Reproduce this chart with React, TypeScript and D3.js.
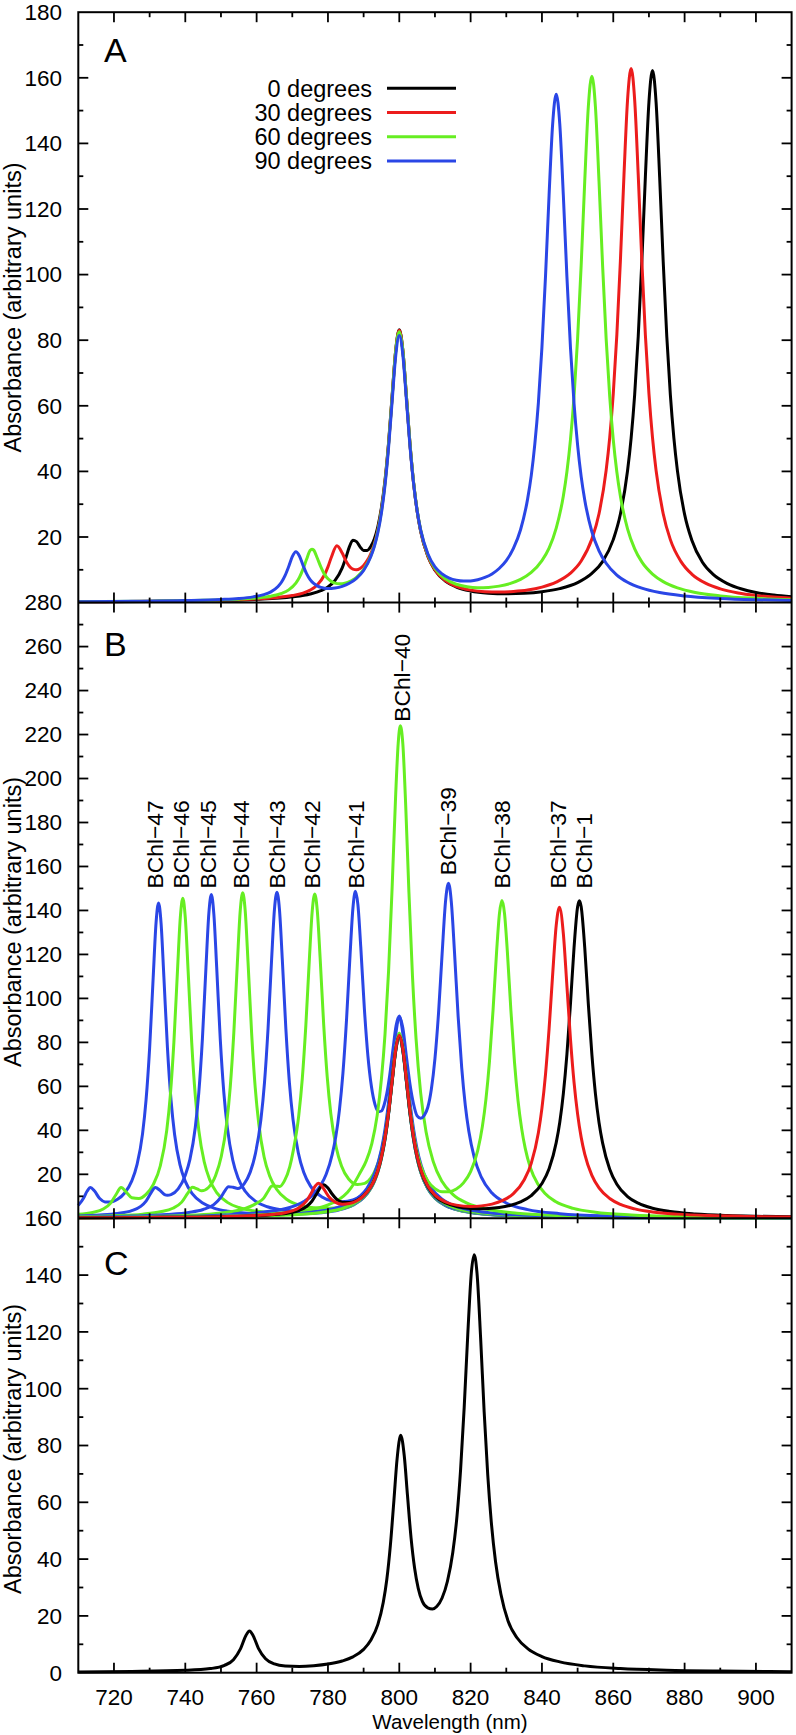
import React from "react";
import * as d3 from "d3";

type Pt = [number, number];

// ---------- tick values ----------
const wavelengthTicks = [720, 740, 760, 780, 800, 820, 840, 860, 880, 900];
const panelATicks = [20, 40, 60, 80, 100, 120, 140, 160, 180];
const panelBTicks = [20, 40, 60, 80, 100, 120, 140, 160, 180, 200, 220, 240, 260, 280];
const panelCTicks = [0, 20, 40, 60, 80, 100, 120, 140, 160];

const legendLabels = ["0 degrees", "30 degrees", "60 degrees", "90 degrees"];

// ---------- panel A spectra (wavelength nm, absorbance) ----------
const specA0: Pt[] = [[710,0.24],[730,0.37],[750,0.67],[760,0.99],[770,1.75],[775,2.63],[778,3.63],[780,4.78],[782,6.78],[784,10.6],[785,13.6],[786,17.0],[787,19.0],[788,18.6],[789,17.0],[790,15.9],[791,15.9],[792,17.1],[793,19.4],[794,23.2],[795,29.0],[796,37.3],[797,48.8],[798,63.2],[799,77.0],[800,83.2],[801,76.9],[802,62.8],[803,48.3],[804,36.6],[805,27.9],[806,21.7],[808,14.1],[810,9.86],[813,6.48],[816,4.74],[820,3.54],[825,2.88],[830,2.69],[835,2.84],[840,3.32],[845,4.27],[850,6.1],[854,8.9],[857,12.5],[860,19.2],[862,27.0],[864,40.2],[865,50.1],[866,63.4],[867,81.2],[868,103.9],[869,129.8],[870,152.6],[871,162.2],[872,152.6],[873,129.8],[874,103.9],[875,81.2],[876,63.4],[877,50.1],[878,40.1],[880,26.9],[882,19.1],[885,12.3],[888,8.6],[892,5.8],[896,4.15],[900,3.1],[905,2.3],[910,1.77]];
const specA30: Pt[] = [[710,0.25],[730,0.39],[750,0.73],[760,1.11],[765,1.46],[770,2.14],[773,2.91],[775,3.79],[777,5.36],[779,8.41],[780,10.9],[781,14.0],[782.5,17.3],[784,15.1],[785,12.8],[786,11.1],[787,10.2],[788,10.0],[789,10.4],[790,11.3],[791,12.8],[792,14.9],[793,17.9],[794,22.2],[795,28.3],[796,36.8],[797,48.4],[798,62.8],[799,76.8],[800,83.0],[801,76.8],[802,62.8],[803,48.3],[804,36.6],[805,28.0],[806,21.8],[808,14.2],[810,9.97],[813,6.63],[816,4.93],[820,3.80],[824,3.32],[828,3.23],[832,3.38],[836,3.81],[840,4.72],[844,6.24],[848,8.99],[851,12.7],[854,19.4],[856,27.1],[858,40.3],[859,50.3],[860,63.7],[861,81.6],[862,104.3],[863,130.3],[864,153.2],[865,162.8],[866,153.2],[867,130.3],[868,104.3],[869,81.6],[870,63.7],[871,50.3],[872,40.3],[874,27.1],[876,19.2],[879,12.5],[882,8.7],[886,5.85],[890,4.2],[895,2.95],[900,2.2],[905,1.7],[910,1.35]];
const specA60: Pt[] = [[710,0.27],[730,0.43],[745,0.69],[755,1.05],[760,1.43],[764,1.95],[767,2.81],[769,3.88],[771,5.93],[772,7.67],[773,10.2],[774,13.2],[775,15.9],[775.5,16.3],[776,16.0],[777,13.6],[778,10.9],[779,8.68],[780,7.25],[781,6.39],[782,5.93],[783,5.74],[784,5.77],[785,5.99],[786,6.37],[787,6.93],[788,7.71],[790,10.05],[792,14.2],[793,17.4],[794,21.8],[795,27.9],[796,36.5],[797,48.2],[798,62.7],[799,76.7],[800,82.6],[801,76.9],[802,62.9],[803,48.5],[804,36.8],[805,28.2],[806,22.1],[808,14.6],[810,10.4],[813,7.16],[816,5.59],[819,4.84],[822,4.56],[825,4.63],[828,5.02],[831,5.79],[834,7.06],[837,9.18],[840,12.8],[842,16.6],[844,22.7],[846,32.5],[847,39.9],[848,49.7],[849,62.9],[850,80.5],[851,102.9],[852,128.5],[853,151.1],[854,160.5],[855,151.1],[856,128.5],[857,102.9],[858,80.5],[859,62.9],[860,49.6],[861,39.8],[862,32.4],[864,22.5],[866,16.4],[868,12.4],[871,8.7],[874,6.4],[878,4.5],[883,3.1],[890,2.05],[900,1.3],[910,0.9]];
const specA90: Pt[] = [[710,0.29],[725,0.41],[740,0.63],[750,0.95],[755,1.26],[759,1.75],[762,2.42],[764,3.27],[766,4.91],[767,6.29],[768,8.3],[769,11.0],[770,14.0],[771,15.5],[772,14.2],[773,11.4],[774,8.83],[775,7.01],[776,5.83],[777,5.1],[778,4.63],[779,4.4],[780,4.31],[781,4.33],[782,4.45],[784,4.95],[786,5.88],[788,7.39],[790,9.8],[792,14.0],[793,17.1],[794,21.4],[795,27.4],[796,35.8],[797,47.3],[798,61.5],[799,75.2],[800,81.4],[801,75.5],[802,61.8],[803,47.7],[804,36.4],[805,28.0],[806,22.1],[808,14.9],[810,10.9],[812,8.74],[814,7.48],[816,6.8],[818,6.55],[820,6.61],[822,6.96],[824,7.66],[826,8.73],[828,10.4],[830,12.8],[832,16.5],[834,22.2],[836,31.7],[837,38.7],[838,48.3],[839,60.9],[840,77.9],[841,99.5],[842,124.2],[843,145.9],[844,155.0],[845,145.9],[846,124.1],[847,99.4],[848,77.7],[849,60.7],[850,48.0],[851,38.4],[852,31.3],[854,21.6],[856,15.8],[858,12.0],[861,8.4],[864,6.2],[868,4.4],[873,3.06],[880,2.03],[890,1.28],[900,0.88],[910,0.65]];

// ---------- panel B spectra ----------
const specB47: Pt[] = [[710,5.85],[711.5,9.27],[712.5,12.4],[713.4,14.0],[714.5,12.5],[716,8.97],[717.5,7.45],[719,7.36],[721,8.63],[723,11.5],[725,17.0],[726.5,24.6],[728,38.3],[729,53.8],[730,77.4],[731,109.6],[731.8,134.4],[732.5,143.4],[733.2,134.4],[734,109.6],[735,77.4],[736,53.7],[737,38.1],[738.5,24.4],[740,16.8],[742,11.1],[745,6.8],[748,4.66],[752,3.19],[758,2.22],[765,1.84],[772,1.96],[778,2.56],[783,3.77],[787,5.93],[790,9.32],[792,13.5],[793,16.7],[794,21.1],[795,27.3],[796,35.9],[797,47.6],[798,62.1],[799,76.1],[800,82.3],[801,76.1],[802,62.1],[803,47.6],[804,35.9],[805,27.2],[806,21.0],[808,13.4],[810,9.16],[813,5.74],[817,3.52],[822,2.19],[830,1.25],[845,0.61],[865,0.29],[910,0.11]];
const specB46: Pt[] = [[710,1.79],[714,2.67],[717,4.24],[719,6.77],[720.5,10.6],[722,14.0],[723.5,11.8],[725,9.38],[727,9.02],[729,10.9],[731,15.3],[733,23.9],[734.8,40.0],[735.8,55.9],[736.8,80.0],[737.8,112.3],[738.6,136.7],[739.3,145.5],[740,136.7],[740.8,112.3],[741.8,79.9],[742.8,55.8],[743.8,39.9],[745.3,25.7],[746.8,17.7],[748.8,11.7],[751.8,7.24],[755,4.91],[759,3.46],[765,2.52],[772,2.34],[778,2.8],[783,3.95],[787,6.06],[790,9.42],[792,13.6],[793,16.8],[794,21.2],[795,27.4],[796,36.0],[797,47.7],[798,62.2],[799,76.2],[800,82.4],[801,76.2],[802,62.2],[803,47.6],[804,35.9],[805,27.3],[806,21.1],[808,13.5],[810,9.25],[813,5.83],[817,3.6],[822,2.26],[830,1.3],[845,0.64],[865,0.3],[910,0.12]];
const specB45: Pt[] = [[710,1.04],[716,1.5],[721,2.23],[725,3.49],[727.5,5.41],[729,7.81],[730.3,11.3],[731.6,14.0],[732.9,12.7],[734.2,10.8],[735,10.5],[736,10.8],[738,13.4],[740,19.6],[741.3,26.8],[742.8,41.3],[743.8,57.4],[744.8,81.7],[745.8,114.3],[746.6,138.6],[747.3,147.2],[748,138.5],[748.8,114.2],[749.8,81.6],[750.8,57.3],[751.8,41.1],[753.3,26.5],[754.8,18.3],[756.8,12.3],[759.8,7.63],[763,5.26],[767,3.84],[772,3.16],[777,3.19],[782,3.97],[786,5.62],[789,8.23],[791,11.4],[793,17.0],[794,21.4],[795,27.6],[796,36.1],[797,47.8],[798,62.3],[799,76.3],[800,82.5],[801,76.3],[802,62.3],[803,47.7],[804,36.0],[805,27.4],[806,21.2],[808,13.6],[810,9.32],[813,5.88],[817,3.64],[822,2.29],[830,1.32],[845,0.64],[865,0.3],[910,0.12]];
const specB44: Pt[] = [[710,0.73],[720,1.15],[728,1.9],[733,2.96],[736.5,4.57],[739,7.35],[740.7,11.4],[742,14.1],[743.3,13.4],[744.6,12.5],[746.5,14.0],[748.5,19.5],[750.1,28.2],[751.6,43.2],[752.6,59.7],[753.6,84.2],[754.6,116.2],[755.4,139.8],[756.1,148.0],[756.8,139.8],[757.6,116.2],[758.6,84.1],[759.6,59.6],[760.6,43.0],[762.1,27.9],[763.6,19.5],[765.6,13.2],[768.6,8.42],[772,5.95],[776,4.75],[780,4.58],[784,5.32],[787,6.84],[790,10.0],[792,14.2],[793,17.3],[794,21.6],[795,27.8],[796,36.4],[797,48.0],[798,62.5],[799,76.5],[800,82.7],[801,76.4],[802,62.4],[803,47.9],[804,36.2],[805,27.5],[806,21.3],[808,13.7],[810,9.4],[813,5.95],[817,3.69],[822,2.33],[830,1.35],[845,0.66],[865,0.31],[910,0.12]];
const specB43: Pt[] = [[710,0.54],[725,0.99],[735,1.7],[741,2.66],[745,4.0],[748,6.24],[750,9.58],[751,12.2],[752.1,14.4],[753.4,14.1],[754.7,13.6],[756.5,15.7],[758.2,21.0],[759.7,29.7],[761.2,44.9],[762.2,61.6],[763.2,86.2],[764.2,117.7],[765,140.5],[765.7,148.3],[766.4,140.5],[767.2,117.7],[768.2,86.1],[769.2,61.5],[770.2,45.0],[771.7,29.7],[773.2,20.9],[775.2,14.4],[778.2,9.81],[781.4,7.83],[784,7.48],[787,8.33],[789,9.89],[791,12.8],[793,18.1],[794,22.4],[795,28.5],[796,37.0],[797,48.6],[798,63.0],[799,77.0],[800,83.1],[801,76.9],[802,62.8],[803,48.2],[804,36.5],[805,27.8],[806,21.6],[808,13.9],[810,9.62],[813,6.13],[817,3.84],[822,2.44],[830,1.42],[845,0.69],[865,0.32],[910,0.13]];
const specB42: Pt[] = [[710,0.43],[730,0.85],[740,1.33],[748,2.11],[753,3.09],[757,4.58],[760,6.83],[762,9.2],[763.2,12.3],[764.3,14.7],[765.4,14.6],[766.5,14.5],[767.8,17.0],[769.3,23.5],[770.3,31.0],[771.8,46.6],[772.8,63.4],[773.8,87.7],[774.8,118.2],[775.6,139.9],[776.3,147.5],[777,140.0],[777.8,118.6],[778.8,88.2],[779.8,64.2],[780.8,47.6],[782.3,32.3],[783.8,23.8],[785.8,17.9],[788.3,15.4],[790.3,15.9],[792,18.3],[793,21.0],[794,24.9],[795,30.7],[796,38.9],[797,50.3],[798,64.5],[799,78.3],[800,84.3],[801,77.9],[802,63.8],[803,49.1],[804,37.3],[805,28.6],[806,22.3],[808,14.5],[810,10.1],[813,6.5],[817,4.11],[822,2.64],[830,1.55],[845,0.77],[865,0.37],[910,0.14]];
const specB41: Pt[] = [[710,0.35],[730,0.61],[745,1.1],[755,1.81],[762,2.84],[767,4.0],[771,5.9],[773.5,7.9],[776,11.0],[778,15.1],[779.5,20.0],[781.2,29.1],[782.2,37.2],[783.2,49.0],[784.2,66.0],[785.2,90.1],[786.2,119.9],[787,141.0],[787.7,148.7],[788.4,142.6],[789.2,123.4],[790.2,95.6],[791.2,73.9],[792.2,59.8],[793.2,51.7],[794.2,48.5],[795,48.8],[795.7,51.3],[796.5,56.7],[797.3,64.9],[798.2,76.4],[799.1,87.5],[800,92.0],[800.9,85.2],[801.8,71.8],[802.7,57.3],[803.5,46.3],[804.3,37.5],[805.5,27.8],[807,20.0],[809,13.8],[812,8.7],[816,5.42],[822,3.17],[830,1.86],[845,0.9],[865,0.43],[910,0.16]];
const specB40: Pt[] = [[710,0.3],[730,0.5],[745,0.8],[757,1.3],[765,2.0],[771,2.89],[776,4.2],[780,6.05],[783,8.41],[785.5,11.8],[787.3,15.8],[789,20.7],[790.7,26.0],[792.3,34.0],[793.8,46.8],[795,63.5],[796,83.8],[797,112.5],[798,150.7],[799,193.1],[799.7,216.1],[800.3,224.0],[801,215.6],[801.8,187.7],[802.7,148.4],[803.7,110.1],[804.7,81.7],[806,56.9],[807.5,39.4],[809.5,25.9],[812,16.7],[815,10.9],[819,6.87],[825,4.0],[833,2.3],[845,1.24],[865,0.55],[910,0.19]];
const specB39: Pt[] = [[710,0.27],[730,0.43],[750,0.79],[765,1.48],[775,2.64],[782,4.56],[786,6.87],[789,10.1],[791,13.8],[793,20.0],[795,31.4],[796,40.5],[797,52.8],[798,68.0],[799,83.5],[800,91.5],[801,86.5],[802,73.5],[803,61.0],[804,52.0],[805,46.6],[806,45.5],[807,46.8],[808,50.5],[809,58.8],[810,72.6],[811,93.2],[812,120.0],[813,144.7],[813.8,152.4],[814.6,143.7],[815.5,120.5],[816.5,91.8],[817.5,68.5],[818.5,51.5],[819.5,39.6],[821,27.8],[823,18.7],[826,11.5],[830,6.97],[836,3.93],[845,2.12],[860,1.01],[880,0.51],[910,0.24]];
const specB38: Pt[] = [[710,0.24],[740,0.49],[765,1.22],[778,2.67],[785,5.1],[789,8.59],[791,12.0],[793,17.7],[794,22.2],[795,28.4],[796,37.1],[797,48.9],[798,63.5],[799,77.6],[800,84.0],[801,77.9],[802,64.1],[803,49.8],[804,38.3],[805,29.9],[806,24.0],[808,17.0],[810,13.5],[812,12.1],[814,12.1],[816,13.3],[818,16.1],[820,21.2],[822,30.9],[823.3,41.8],[824.3,54.2],[825.3,71.6],[826.3,94.9],[827.3,121.6],[828.1,138.8],[828.8,144.5],[829.5,138.7],[830.3,121.3],[831.3,94.4],[832.3,71.0],[833.3,53.4],[834.3,40.9],[835.3,31.9],[836.8,22.8],[838.8,15.7],[840.8,11.4],[843.8,7.62],[848.8,4.5],[855,2.74],[865,1.52],[880,0.8],[910,0.32]];
const specB37: Pt[] = [[710,0.25],[730,0.39],[750,0.76],[760,1.27],[765,1.85],[768,2.55],[770,3.38],[772,4.88],[774,7.94],[775.5,12.0],[776.5,14.8],[777.3,15.9],[778,15.3],[779,12.9],[780.5,9.31],[782,7.33],[784,6.43],[786,6.71],[788,7.88],[790,10.2],[792,14.3],[793,17.4],[794,21.8],[795,28.0],[796,36.6],[797,48.2],[798,62.7],[799,76.8],[800,83.2],[801,77.0],[802,63.0],[803,48.5],[804,36.9],[805,28.3],[806,22.2],[808,14.7],[810,10.6],[813,7.42],[816,6.0],[820,5.42],[823,5.65],[826,6.46],[829,8.12],[832,11.2],[835,17.4],[837,25.0],[839,38.9],[840,50.1],[841,65.5],[842,86.1],[843,110.8],[844,133.2],[844.9,141.5],[846,129.5],[847,105.7],[848,81.5],[849,61.8],[850,47.4],[851,36.8],[852,29.2],[854,19.5],[856,13.8],[859,9.0],[862,6.3],[866,4.28],[871,2.9],[878,1.9],[887,1.23],[897,0.85],[910,0.57]];
const specB1: Pt[] = [[710,0.24],[730,0.38],[750,0.73],[760,1.18],[766,1.81],[770,2.74],[772,3.66],[774,5.39],[775.5,7.77],[777,11.6],[778,14.3],[778.8,15.3],[780,13.8],[781,11.4],[782.5,8.62],[784,7.34],[786,7.13],[788,8.1],[790,10.3],[792,14.3],[793,17.5],[794,21.8],[795,28.0],[796,36.6],[797,48.3],[798,62.8],[799,76.7],[800,83.0],[801,76.8],[802,62.8],[803,48.3],[804,36.7],[805,28.1],[806,21.9],[808,14.4],[810,10.2],[813,6.97],[816,5.39],[820,4.51],[824,4.4],[828,4.92],[831,5.84],[834,7.46],[837,10.3],[840,15.8],[842,22.5],[844,34.4],[845,43.7],[846,56.7],[847,74.5],[848,97.6],[849,123.1],[850,141.7],[850.5,144.4],[851,141.7],[852,123.1],[853,97.6],[854,74.5],[855,56.6],[856,43.6],[857,34.3],[859,22.3],[861,15.5],[864,9.9],[867,6.87],[871,4.6],[876,3.07],[883,1.97],[892,1.26],[900,0.92],[910,0.67]];

// ---------- panel C spectrum ----------
const specC: Pt[] = [[710,0.29],[725,0.43],[740,0.82],[747,1.44],[751,2.59],[753.5,4.59],[755.5,8.48],[757,13.1],[758,14.7],[759,13.1],[760.5,8.59],[762.5,4.93],[765,3.09],[768,2.36],[772,2.19],[776,2.45],[780,3.03],[784,4.12],[787,5.57],[790,8.2],[792,11.4],[794,17.0],[795.5,24.7],[796.5,32.8],[797.5,44.8],[798.5,60.8],[799.4,75.5],[800.4,83.6],[801.4,76.3],[802.3,62.4],[803.3,47.5],[804.3,36.8],[805.3,29.8],[806.5,25.0],[808,22.8],[809.3,22.4],[810.5,23.3],[812,26.3],[813.5,32.2],[815,42.3],[816.2,55.4],[817.2,71.7],[818.2,93.4],[819.2,119.0],[820.2,140.8],[821,147.2],[821.8,140.6],[822.8,118.0],[823.8,91.8],[824.8,69.7],[825.8,53.0],[827,39.0],[828.5,27.6],[830.5,18.2],[833,12.3],[836,8.5],[840,5.7],[845,3.82],[852,2.4],[862,1.45],[875,0.88],[890,0.56],[910,0.34]];

// ---------- BChl peak labels (label centre wavelength, absorbance where label starts) ----------
const bchlNames = ["BChl\u221247", "BChl\u221246", "BChl\u221245", "BChl\u221244", "BChl\u221243", "BChl\u221242", "BChl\u221241", "BChl\u221240", "BChl\u221239", "BChl\u221238", "BChl\u221237", "BChl\u22121"];
const bchlLabelNm = [731.5, 738.8, 746.4, 755.6, 765.6, 775.6, 787.8, 800.7, 813.7, 828.7, 844.6, 851.9];
const bchlLabelAbs = [150, 150, 150, 150, 150, 150, 150, 225.8, 156, 150, 150, 150];

const BLACK = "#000000";
const RED = "#ec1c1c";
const GREEN = "#66ee22";
const BLUE = "#2a46e6";

const FONT = "'Liberation Sans', Arial, Helvetica, sans-serif";

export default function App() {
  const x = d3.scaleLinear().domain([710, 910]).range([78.3, 791.6]);
  const yA = d3.scaleLinear().domain([0, 180]).range([602.6, 12.2]);
  const yB = d3.scaleLinear().domain([0, 280]).range([1218.3, 602.6]);
  const yC = d3.scaleLinear().domain([0, 160]).range([1672.7, 1218.3]);

  const lineFor = (y: d3.ScaleLinear<number, number>) =>
    d3.line<Pt>().x((d) => x(d[0])).y((d) => y(d[1])).curve(d3.curveMonotoneX);

  const L = x(710);
  const R = x(910);
  const top = yA(180);
  const b1 = yA(0);
  const b2 = yB(0);
  const bottom = yC(0);

  const aSeries = [
    { data: specA0, color: BLACK },
    { data: specA30, color: RED },
    { data: specA60, color: GREEN },
    { data: specA90, color: BLUE },
  ];
  const bSeries = [
    { data: specB47, color: BLUE },
    { data: specB46, color: GREEN },
    { data: specB45, color: BLUE },
    { data: specB44, color: GREEN },
    { data: specB43, color: BLUE },
    { data: specB42, color: GREEN },
    { data: specB41, color: BLUE },
    { data: specB40, color: GREEN },
    { data: specB39, color: BLUE },
    { data: specB38, color: GREEN },
    { data: specB1, color: BLACK },
    { data: specB37, color: RED },
  ];

  const xMinor = d3.range(730, 900, 20);
  const MAJ = 10;
  const MIN = 5;

  const yTicks = (y: d3.ScaleLinear<number, number>, max: number, key: string) => {
    const els: React.ReactNode[] = [];
    for (let v = 10; v < max; v += 10) {
      const len = v % 20 === 0 ? MAJ : MIN;
      const yy = y(v);
      els.push(<line key={`${key}l${v}`} x1={L} x2={L + len} y1={yy} y2={yy} />);
      els.push(<line key={`${key}r${v}`} x1={R - len} x2={R} y1={yy} y2={yy} />);
    }
    return els;
  };

  const xTicksAt = (yy: number, mode: "down" | "both" | "up", key: string) => {
    const els: React.ReactNode[] = [];
    const add = (v: number, len: number) => {
      const xx = x(v);
      const y1 = mode === "down" ? yy : yy - len;
      const y2 = mode === "up" ? yy : yy + len;
      els.push(<line key={`${key}${v}`} x1={xx} x2={xx} y1={y1} y2={y2} />);
    };
    wavelengthTicks.forEach((v) => add(v, MAJ));
    xMinor.forEach((v) => add(v, MIN));
    return els;
  };

  const yLabel = (cy: number, key: string) => (
    <text
      key={key}
      transform={`translate(21.3,${cy}) rotate(-90)`}
      textAnchor="middle"
      fontSize={23.5}
      fontFamily={FONT}
      fill="#000"
    >
      Absorbance (arbitrary units)
    </text>
  );

  const tickLabels = (y: d3.ScaleLinear<number, number>, values: number[], key: string) =>
    values.map((v) => (
      <text
        key={`${key}${v}`}
        x={62}
        y={y(v)}
        dy="0.35em"
        textAnchor="end"
        fontSize={22.5}
        fontFamily={FONT}
        fill="#000"
      >
        {v}
      </text>
    ));

  const legendRowY = [88.3, 112.6, 136.8, 161.0];
  const legendColors = [BLACK, RED, GREEN, BLUE];

  return (
    <div style={{ position: "absolute", left: 0, top: 0 }}>
      <svg width={796} height={1735} style={{ display: "block", background: "#fff" }}>
        <rect x={0} y={0} width={796} height={1735} fill="#fff" />

        <g fill="none" strokeWidth={3} strokeLinejoin="round">
          {aSeries.map((s, i) => (
            <path key={`a${i}`} d={lineFor(yA)(s.data) || ""} stroke={s.color} />
          ))}
        </g>
        <g fill="none" strokeWidth={3} strokeLinejoin="round">
          {bSeries.map((s, i) => (
            <path key={`b${i}`} d={lineFor(yB)(s.data) || ""} stroke={s.color} />
          ))}
        </g>
        <path d={lineFor(yC)(specC) || ""} fill="none" stroke={BLACK} strokeWidth={3} />

        <g stroke="#000" strokeWidth={2} fill="none">
          <rect x={L} y={top} width={R - L} height={bottom - top} />
          <line x1={L} x2={R} y1={b1} y2={b1} />
          <line x1={L} x2={R} y1={b2} y2={b2} />
        </g>

        <g stroke="#000" strokeWidth={1.8}>
          {xTicksAt(top, "down", "t")}
          {xTicksAt(b1, "both", "m1")}
          {xTicksAt(b2, "both", "m2")}
          {xTicksAt(bottom, "up", "bt")}
          {yTicks(yA, 180, "A")}
          {yTicks(yB, 280, "B")}
          {yTicks(yC, 160, "C")}
        </g>

        {tickLabels(yA, panelATicks, "ta")}
        {tickLabels(yB, panelBTicks, "tb")}
        {tickLabels(yC, panelCTicks, "tc")}

        {wavelengthTicks.map((v) => (
          <text
            key={`xl${v}`}
            x={x(v)}
            y={1697.5}
            dy="0.35em"
            textAnchor="middle"
            fontSize={22.5}
            fontFamily={FONT}
            fill="#000"
          >
            {v}
          </text>
        ))}
        <text x={450} y={1729} textAnchor="middle" fontSize={20.5} fontFamily={FONT} fill="#000">
          Wavelength (nm)
        </text>

        {yLabel(307.5, "ylA")}
        {yLabel(922, "ylB")}
        {yLabel(1449, "ylC")}

        <text x={104} y={62} fontSize={34} fontFamily={FONT} fill="#000">A</text>
        <text x={104} y={656} fontSize={34} fontFamily={FONT} fill="#000">B</text>
        <text x={104} y={1275} fontSize={34} fontFamily={FONT} fill="#000">C</text>

        {legendLabels.map((lab, i) => (
          <g key={`lg${i}`}>
            <text
              x={372}
              y={legendRowY[i]}
              dy="0.35em"
              textAnchor="end"
              fontSize={23.5}
              fontFamily={FONT}
              fill="#000"
            >
              {lab}
            </text>
            <line x1={387} x2={456} y1={legendRowY[i]} y2={legendRowY[i]} stroke={legendColors[i]} strokeWidth={3} />
          </g>
        ))}

        {bchlNames.map((name, i) => (
          <text
            key={`bl${i}`}
            transform={`translate(${x(bchlLabelNm[i])},${yB(bchlLabelAbs[i])}) rotate(-90)`}
            dy="0.35em"
            textAnchor="start"
            fontSize={22.8}
            fontFamily={FONT}
            fill="#000"
          >
            {name}
          </text>
        ))}
      </svg>
    </div>
  );
}
